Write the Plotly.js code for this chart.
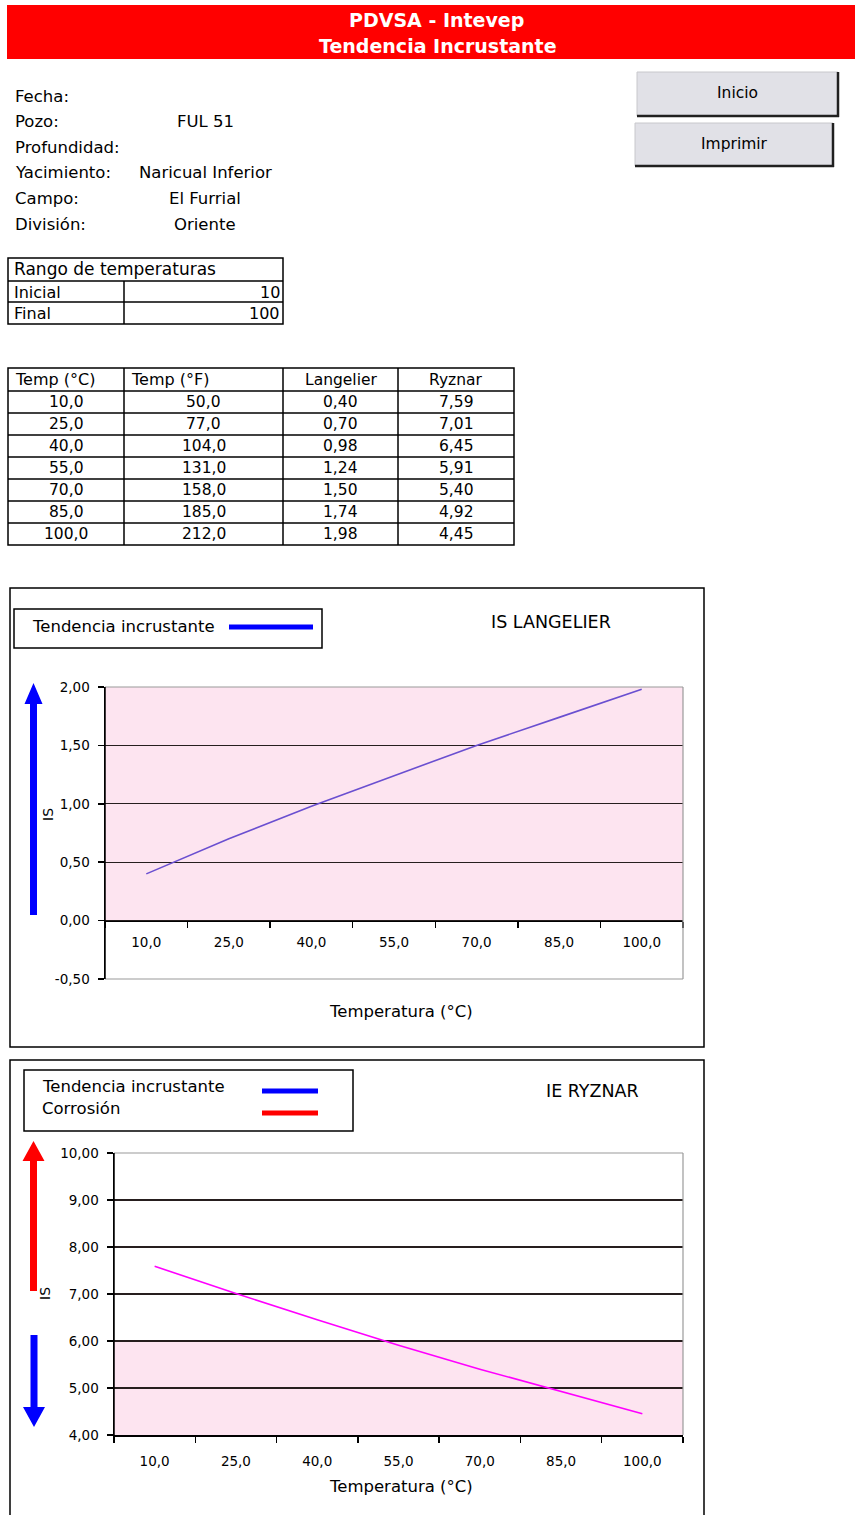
<!DOCTYPE html>
<html>
<head>
<meta charset="utf-8">
<script src="https://cdn.plot.ly/plotly-3.0.1.min.js"></script>
<style>
  html, body { margin: 0; padding: 0; background: #fff; }
  #sheet { width: 855px; height: 1515px; }
</style>
</head>
<body>
<div id="sheet"></div>
<script>
// ---- Well data ----
const infoLabels = ['Fecha:', 'Pozo:', 'Profundidad:', 'Yacimiento:', 'Campo:', 'División:'];
const infoValues = ['', 'FUL 51', '', 'Naricual Inferior', 'El Furrial', 'Oriente'];

const rangeTitle = 'Rango de temperaturas';
const rangeLabels = ['Inicial', 'Final'];
const rangeValues = [10, 100];

const tableHeader = ['Temp (°C)', 'Temp (°F)', 'Langelier', 'Ryznar'];
const tempC = ['10,0', '25,0', '40,0', '55,0', '70,0', '85,0', '100,0'];
const tempF = ['50,0', '77,0', '104,0', '131,0', '158,0', '185,0', '212,0'];
const langelier = [0.40, 0.70, 0.98, 1.24, 1.50, 1.74, 1.98];
const ryznar = [7.59, 7.01, 6.45, 5.91, 5.40, 4.92, 4.45];

const lsiTicks = [-0.5, 0, 0.5, 1.0, 1.5, 2.0];
const rsiTicks = [4, 5, 6, 7, 8, 9, 10];

// ---- Page geometry helpers (pixels -> paper fractions) ----
const W = 855, H = 1515;
const X = p => p / W;
const Y = p => 1 - p / H;
const FONT = 'DejaVu Sans, Verdana, sans-serif';
const fmt = (v, d) => v.toFixed(d).replace('.', ',');

const shapes = [];
const annotations = [];

function rect(x0, y0, x1, y1, o = {}) {
  shapes.push({
    type: 'rect', xref: 'paper', yref: 'paper',
    x0: X(x0), x1: X(x1), y0: Y(y1), y1: Y(y0),
    fillcolor: o.fill || 'rgba(0,0,0,0)',
    line: { color: o.color || 'black', width: o.width === undefined ? 1 : o.width },
    layer: o.layer || 'above'
  });
}
function seg(x0, y0, x1, y1, o = {}) {
  shapes.push({
    type: 'line', xref: 'paper', yref: 'paper',
    x0: X(x0), x1: X(x1), y0: Y(y0), y1: Y(y1),
    line: { color: o.color || 'black', width: o.width || 1 },
    layer: o.layer || 'above'
  });
}
function txt(x, y, text, o = {}) {
  annotations.push({
    xref: 'paper', yref: 'paper', x: X(x), y: Y(y), text: text,
    showarrow: false, xanchor: o.anchor || 'left', yanchor: 'middle',
    textangle: o.angle || 0, borderpad: 0,
    font: { family: o.family || FONT, size: o.size || 15, color: o.color || 'black',
            weight: o.weight || 'normal' }
  });
}
// Block arrow as a filled path; dir = -1 points up, +1 points down
function arrow(cx, tip, tail, dir, color, headLen, headHalf, shaftHalf) {
  const base = tip - dir * headLen;
  const pts = [
    [cx, tip], [cx + headHalf, base], [cx + shaftHalf, base], [cx + shaftHalf, tail],
    [cx - shaftHalf, tail], [cx - shaftHalf, base], [cx - headHalf, base]
  ];
  const path = 'M ' + pts.map(p => X(p[0]) + ' ' + Y(p[1])).join(' L ') + ' Z';
  shapes.push({ type: 'path', xref: 'paper', yref: 'paper', path: path,
    fillcolor: color, line: { width: 0 }, layer: 'above' });
}

// ---- Header band ----
rect(7, 5, 860, 59, { fill: '#ff0000', width: 0 });
txt(437, 20, 'PDVSA - Intevep', { anchor: 'center', size: 19, color: 'white', weight: 'bold' });
txt(438, 46, 'Tendencia Incrustante', { anchor: 'center', size: 19, color: 'white', weight: 'bold' });

// ---- Well information ----
infoLabels.forEach((lab, i) => {
  const yy = 96 + i * 25.6;
  txt(14, yy, lab, { size: 16.5 });
  if (infoValues[i]) txt(205, yy, infoValues[i], { anchor: 'center', size: 16.5 });
});

// ---- Buttons ----
function button(x0, y0, x1, y1, label) {
  rect(x0, y0, x1, y1, { fill: '#e1e1e7', color: '#c8c8cc', width: 1 });
  seg(x1, y0, x1, y1 + 1, { color: '#202020', width: 2.5 });
  seg(x0, y1, x1 + 1, y1, { color: '#202020', width: 2.5 });
  txt((x0 + x1) / 2, (y0 + y1) / 2 - 1, label, { anchor: 'center', size: 15.5 });
}
button(637, 72, 838, 116, 'Inicio');
button(635, 123, 833, 166, 'Imprimir');

// ---- Temperature range table ----
rect(8, 258, 283, 324, { width: 1.5 });
seg(8, 281, 283, 281, { width: 1.5 });
seg(8, 302, 283, 302, { width: 1.5 });
seg(124, 281, 124, 324, { width: 1.5 });
txt(13, 269, rangeTitle, { size: 17 });
rangeLabels.forEach((lab, i) => {
  const yy = 292 + i * 21.5;
  txt(13, yy, lab, { size: 16 });
  txt(281, yy, String(rangeValues[i]), { anchor: 'right', size: 16 });
});

// ---- Index table ----
const colEdges = [8, 124, 283, 398, 514];
const tTop = 368, headH = 23, rowH = 22;
const tBottom = tTop + headH + rowH * tempC.length;
rect(colEdges[0], tTop, colEdges[4], tBottom, { width: 1.5 });
for (let c = 1; c < 4; c++) seg(colEdges[c], tTop, colEdges[c], tBottom, { width: 1.5 });
for (let r = 0; r < tempC.length; r++) {
  const yl = tTop + headH + r * rowH;
  seg(colEdges[0], yl, colEdges[4], yl, { width: 1.5 });
}
const colMid = c => (colEdges[c] + colEdges[c + 1]) / 2;
const TS = 15.5;
txt(14, tTop + headH / 2, tableHeader[0], { size: 16 });
txt(130, tTop + headH / 2, tableHeader[1], { size: 16 });
txt(colMid(2), tTop + headH / 2, tableHeader[2], { anchor: 'center', size: TS });
txt(colMid(3), tTop + headH / 2, tableHeader[3], { anchor: 'center', size: TS });
tempC.forEach((t, r) => {
  const yy = tTop + headH + r * rowH + rowH / 2;
  txt(colMid(0), yy, t, { anchor: 'center', size: TS });
  txt(colMid(1), yy, tempF[r], { anchor: 'center', size: TS });
  txt(colMid(2), yy, fmt(langelier[r], 2), { anchor: 'center', size: TS });
  txt(colMid(3), yy, fmt(ryznar[r], 2), { anchor: 'center', size: TS });
});

// ---- Chart frames, legends, arrows ----
const PINK = 'rgb(253,228,240)';
const GRID = '#261e1e';
const BORDER = '#9a9a9a';

// Langelier chart frame
rect(10, 588, 704, 1047, { width: 1.5 });
rect(14, 609, 322, 648, { width: 1.5 });
txt(31, 627, 'Tendencia incrustante', { size: 16.5 });
seg(229, 627, 313, 627, { color: '#0000ff', width: 5 });
txt(551, 622, 'IS LANGELIER', { anchor: 'center', size: 17.5 });
arrow(33.5, 683, 915, -1, '#0000ff', 21, 9, 3.5);
txt(48, 815, 'IS', { anchor: 'center', size: 14, angle: -90 });
txt(401, 1011, 'Temperatura (°C)', { anchor: 'center', size: 16.5 });

// Ryznar chart frame (runs past the bottom of the page)
rect(10, 1060, 704, 1530, { width: 1.5 });
rect(24, 1070, 353, 1131, { width: 1.5 });
txt(41, 1086, 'Tendencia incrustante', { size: 16.5 });
txt(41, 1108, 'Corrosión', { size: 16.5 });
seg(262, 1091, 318, 1091, { color: '#0000ff', width: 5 });
seg(262, 1113, 318, 1113, { color: '#ff0000', width: 5 });
txt(592, 1091, 'IE RYZNAR', { anchor: 'center', size: 17.5 });
arrow(33.5, 1141, 1291, -1, '#ff0000', 20, 11, 3.5);
arrow(34, 1427, 1335, 1, '#0000ff', 20, 11, 3.5);
txt(45, 1294, 'IS', { anchor: 'center', size: 14, angle: -90 });
txt(401, 1486, 'Temperatura (°C)', { anchor: 'center', size: 16.5 });

// ---- Plot areas ----
const d1x = [X(105), X(683)], d1y = [Y(979), Y(687)];
const d2x = [X(114), X(683)], d2y = [Y(1435), Y(1153)];
const r1 = [-0.5, 2.0], r2 = [4, 10];
// paper height of LSI = 0, where the temperature axis crosses
const zeroPos = d1y[0] + (0 - r1[0]) / (r1[1] - r1[0]) * (d1y[1] - d1y[0]);

// Zones shaded in pink: scaling side of each index
shapes.push({ type: 'rect', xref: 'x domain', yref: 'y', x0: 0, x1: 1, y0: 0, y1: 2,
  fillcolor: PINK, line: { width: 0 }, layer: 'below' });
shapes.push({ type: 'rect', xref: 'x2 domain', yref: 'y2', x0: 0, x1: 1, y0: 4, y1: 6,
  fillcolor: PINK, line: { width: 0 }, layer: 'below' });
// light frame on top/right/bottom of the plot areas, dark value axis on the left
[['x', 'y', true], ['x2', 'y2', false]].forEach(([xa, ya, withBottom]) => {
  const dom = { xref: xa + ' domain', yref: ya + ' domain', layer: 'above' };
  shapes.push(Object.assign({ type: 'line', x0: 0, x1: 1, y0: 1, y1: 1,
    line: { color: BORDER, width: 1.2 } }, dom));
  shapes.push(Object.assign({ type: 'line', x0: 1, x1: 1, y0: 0, y1: 1,
    line: { color: BORDER, width: 1.2 } }, dom));
  if (withBottom) shapes.push(Object.assign({ type: 'line', x0: 0, x1: 1, y0: 0, y1: 0,
    line: { color: BORDER, width: 1.2 } }, dom));
  shapes.push(Object.assign({ type: 'line', x0: 0, x1: 0, y0: 0, y1: 1,
    line: { color: 'black', width: 1.5 } }, dom));
});

const catAxis = (standoff) => ({
  type: 'category', categoryorder: 'array', categoryarray: tempC,
  range: [-0.5, tempC.length - 0.5], tickson: 'boundaries',
  ticks: 'outside', ticklen: 6, tickwidth: 1.5, tickcolor: 'black',
  showline: true, linecolor: 'black', linewidth: 1.5, showgrid: false, zeroline: false,
  tickfont: { family: FONT, size: 13.5, color: 'black' }, ticklabelstandoff: standoff,
  fixedrange: true
});
const valAxis = (ticks, dec) => ({
  tickmode: 'array', tickvals: ticks, ticktext: ticks.map(v => fmt(v, dec)),
  ticks: 'outside', ticklen: 6, tickwidth: 1.5, tickcolor: 'black',
  showline: true, linecolor: 'black', linewidth: 1.5,
  showgrid: true, gridcolor: GRID, gridwidth: 1.4, zeroline: false,
  tickfont: { family: FONT, size: 13.5, color: 'black' }, ticklabelstandoff: 5,
  fixedrange: true
});

const traces = [
  { x: tempC, y: langelier, type: 'scatter', mode: 'lines', xaxis: 'x', yaxis: 'y',
    line: { color: '#6a4fd0', width: 1.6 }, hoverinfo: 'skip', showlegend: false },
  { x: tempC, y: ryznar, type: 'scatter', mode: 'lines', xaxis: 'x2', yaxis: 'y2',
    line: { color: '#ff00ff', width: 1.6 }, hoverinfo: 'skip', showlegend: false }
];

const layout = {
  width: W, height: H, margin: { l: 0, r: 0, t: 0, b: 0 },
  paper_bgcolor: 'white', plot_bgcolor: 'rgba(0,0,0,0)',
  showlegend: false,
  xaxis: Object.assign({}, catAxis(9), { domain: d1x, anchor: 'free', position: zeroPos }),
  yaxis: Object.assign({}, valAxis(lsiTicks, 2), { domain: d1y, range: r1, anchor: 'x' }),
  xaxis2: Object.assign({}, catAxis(13), { domain: d2x, anchor: 'y2' }),
  yaxis2: Object.assign({}, valAxis(rsiTicks, 2), { domain: d2y, range: r2, anchor: 'x2' }),
  shapes: shapes,
  annotations: annotations
};

Plotly.newPlot('sheet', traces, layout, { displayModeBar: false, staticPlot: true });
</script>
</body>
</html>
